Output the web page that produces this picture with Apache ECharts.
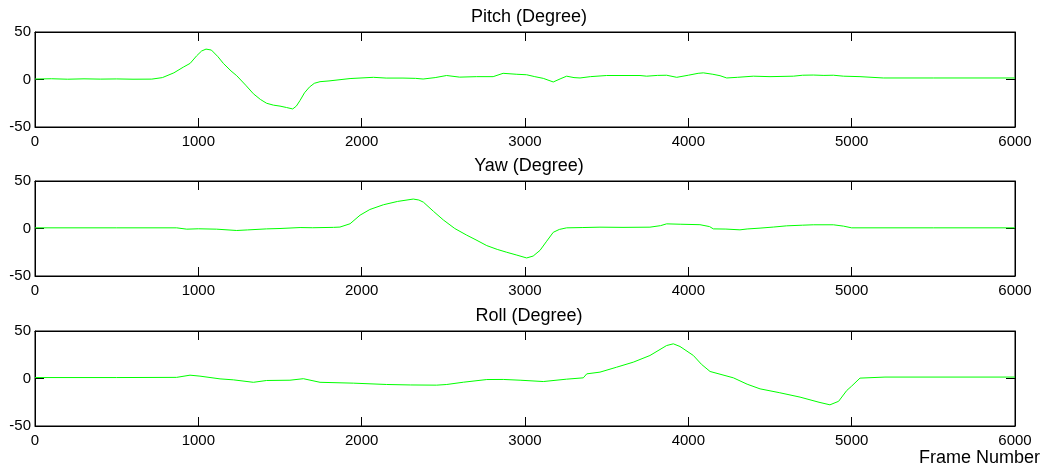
<!DOCTYPE html>
<html>
<head>
<meta charset="utf-8">
<script src="https://cdn.jsdelivr.net/npm/echarts@6/dist/echarts.min.js"></script>
<style>html,body{margin:0;padding:0;background:#fff;}#c{width:1045px;height:472px;}</style>
</head>
<body>
<div id="c"></div>
<script>
const xTicks = [0, 1000, 2000, 3000, 4000, 5000, 6000];
const yTicks = [-50, 0, 50];
const titles = ['Pitch (Degree)', 'Yaw (Degree)', 'Roll (Degree)'];
const xLabel = 'Frame Number';

const pitchData = [[0,0.5],[100,0.8],[200,0.3],[300,0.7],[400,0.4],[500,0.6],[600,0.3],[715,0.4],[780,2],[850,7],[908,13],[950,17],[990,25],[1020,30],[1047,32],[1080,31],[1120,24],[1153,17],[1200,9],[1235,4],[1290,-6],[1337,-15],[1380,-21],[1418,-25],[1460,-27],[1500,-28],[1540,-29.5],[1578,-31],[1600,-28],[1623,-22],[1650,-14],[1680,-8],[1710,-4],[1745,-2.3],[1800,-1.5],[1929,1],[2072,2.3],[2150,1.5],[2253,1.5],[2330,1.2],[2376,0.5],[2450,2],[2520,4.2],[2600,2.5],[2704,3],[2805,3],[2866,6.5],[2950,5.5],[3010,5],[3060,3],[3112,1.2],[3173,-2.6],[3220,1],[3255,3.5],[3300,2],[3337,1.6],[3400,3],[3500,4.2],[3600,4.2],[3704,4.2],[3745,3.5],[3810,4.3],[3867,4.5],[3929,2.3],[4000,4.5],[4060,6.5],[4092,7],[4150,5.5],[4194,4],[4235,1.6],[4300,2.3],[4398,3.5],[4500,3],[4643,3.5],[4700,4.5],[4765,4.7],[4830,4.3],[4888,4.5],[4950,3.5],[5051,3],[5194,1.6],[5500,1.6],[6000,1.6]];

const yawData = [[0,0.7],[500,0.7],[867,0.7],[929,-0.7],[1000,-0.3],[1112,-0.7],[1235,-2.1],[1300,-1.5],[1418,-0.4],[1500,0],[1623,1],[1700,0.8],[1827,1.2],[1867,1.5],[1929,5],[1990,14],[2050,20],[2133,25],[2220,28.5],[2316,31],[2350,30],[2378,27.7],[2440,18],[2500,9],[2570,0],[2643,-7],[2700,-12],[2766,-18],[2830,-22],[2888,-25],[2950,-28],[3010,-31],[3050,-29],[3092,-23],[3130,-14],[3173,-4],[3210,-1],[3255,0.7],[3350,1],[3459,1.4],[3600,1.2],[3765,1.4],[3830,3],[3867,4.9],[3950,4.5],[4071,4],[4130,2],[4153,-0.4],[4230,-0.6],[4316,-1.4],[4360,-0.5],[4439,0.4],[4520,1.5],[4602,2.8],[4700,3.5],[4765,3.9],[4888,3.9],[4950,2.5],[5000,0.7],[5500,0.7],[6000,0.7]];

const rollData = [[0,1],[500,1],[867,1.2],[949,3.5],[1010,2.5],[1133,-0.4],[1214,-1.4],[1337,-4],[1418,-2.1],[1561,-1.8],[1643,-0.2],[1745,-4],[1949,-4.9],[2153,-6.3],[2300,-6.8],[2459,-7],[2521,-6.3],[2623,-3.9],[2766,-1.1],[2867,-1],[2970,-1.8],[3112,-3.2],[3255,-0.7],[3357,0.7],[3378,4.9],[3459,6.7],[3561,11.9],[3663,17.2],[3765,24.2],[3867,34.7],[3908,36.5],[3949,33.7],[4031,24.2],[4080,15],[4133,7.4],[4276,0.7],[4360,-6],[4439,-10.9],[4560,-15],[4684,-19.6],[4800,-25],[4867,-27.7],[4920,-24],[4970,-12.6],[5000,-8],[5051,0.4],[5204,1.5],[6000,1.5]];

const seriesData = [pitchData, yawData, rollData];
const gridTops = [32, 181, 331];
const FONT = 'Liberation Sans, Arial, sans-serif';

const grids = [], xAxes = [], yAxes = [], series = [], graphics = [];
gridTops.forEach((top, i) => {
  grids.push({left: 35, right: 30, top: top, height: 95, show: true, borderColor: '#000', borderWidth: 1, backgroundColor: 'transparent', containLabel: false});
  const xBase = {gridIndex: i, type: 'value', min: xTicks[0], max: xTicks[xTicks.length-1], interval: 1000,
    splitLine: {show: false}, axisLine: {show: true, onZero: false, lineStyle: {color: '#000', width: 1}},
    axisTick: {show: true, inside: true, length: 9, lineStyle: {color: '#000'}}};
  xAxes.push(Object.assign({}, xBase, {position: 'bottom',
    axisLabel: {show: true, color: '#000', fontSize: 15, fontFamily: FONT, margin: 7, formatter: v => String(v)}}));
  xAxes.push(Object.assign({}, xBase, {position: 'top', axisLabel: {show: false}}));
  const yBase = {gridIndex: i, type: 'value', min: yTicks[0], max: yTicks[yTicks.length-1], interval: 50,
    splitLine: {show: false}, axisLine: {show: true, onZero: false, lineStyle: {color: '#000', width: 1}},
    axisTick: {show: true, inside: true, length: 9, lineStyle: {color: '#000'}}};
  yAxes.push(Object.assign({}, yBase, {position: 'left',
    axisLabel: {show: true, color: '#000', fontSize: 15, fontFamily: FONT, margin: 4, formatter: v => String(v)}}));
  yAxes.push(Object.assign({}, yBase, {position: 'right', axisLabel: {show: false}}));
  series.push({type: 'line', xAxisIndex: 2*i, yAxisIndex: 2*i, data: seriesData[i], showSymbol: false,
    lineStyle: {color: '#00ff00', width: 1}, silent: true});
  graphics.push({type: 'text', x: 529, y: top - 15, style: {text: titles[i], fill: '#000',
    font: '18px ' + FONT, textAlign: 'center', textVerticalAlign: 'middle'}});
});
graphics.push({type: 'text', x: 1040, y: 458, style: {text: xLabel, fill: '#000',
  font: '18px ' + FONT, textAlign: 'right', textVerticalAlign: 'middle'}});

const chart = echarts.init(document.getElementById('c'), null, {renderer: 'canvas'});
chart.setOption({
  animation: false,
  backgroundColor: '#fff',
  grid: grids, xAxis: xAxes, yAxis: yAxes, series: series, graphic: graphics
});
</script>
</body>
</html>
